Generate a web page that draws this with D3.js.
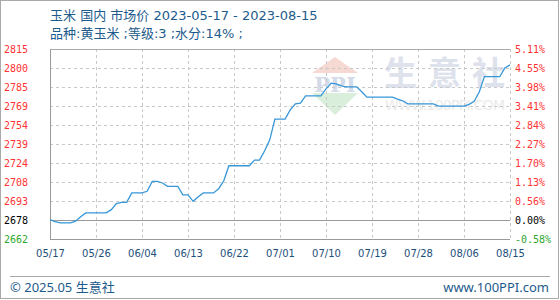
<!DOCTYPE html>
<html>
<head>
<meta charset="utf-8">
<script src="https://cdn.jsdelivr.net/npm/d3@7"></script>
<style>
  html, body { margin: 0; padding: 0; background: #fff; }
  svg { display: block; }
</style>
</head>
<body>
<div class="chart"></div>
<script>
// data, one value per day from 2023-05-17 to 2023-08-15
var startDate = '2023-05-17', endDate = '2023-08-15';
var basePrice = 2678;
var prices = [
  2678, 2676.4, 2675.4, 2675.4, 2675.4, 2676.8, 2680.4, 2683.4, 2683.4, 2683.4,
  2683.4, 2683.4, 2686, 2690.8, 2691.9, 2691.9, 2699.4, 2699.4, 2699.4, 2700.7,
  2708.7, 2708.7, 2707.4, 2704.7, 2704.7, 2704.7, 2697.8, 2697.8, 2692.7, 2696.4,
  2699.4, 2699.4, 2699.4, 2702.8, 2709.2, 2721.2, 2721.2, 2721.2, 2721.2, 2721.2,
  2725.8, 2725.8, 2733.2, 2742, 2758.6, 2758.6, 2758.6, 2766, 2770.9, 2771.4,
  2777.3, 2777.3, 2777.3, 2777.3, 2782.9, 2787.4, 2786.9, 2785.3, 2784.5, 2784.5,
  2784.5, 2780.5, 2776.2, 2776.2, 2776.2, 2776.2, 2776.2, 2776.2, 2774.6, 2773.3,
  2770.9, 2770.9, 2770.9, 2770.9, 2770.9, 2770.9, 2769, 2769, 2769, 2769,
  2769, 2769, 2770.5, 2772.9, 2780.5, 2792.7, 2792.7, 2792.7, 2792.7, 2799.7,
  2802.1
];
var xTickLabels = ['05/17', '05/26', '06/04', '06/13', '06/22', '07/01', '07/10', '07/19', '07/28', '08/06', '08/15'];
var yTickLabels = ['2662', '2678', '2693', '2708', '2724', '2739', '2754', '2769', '2785', '2800', '2815'];
var yTickPct = [-0.58, 0, 0.56, 1.13, 1.70, 2.27, 2.84, 3.41, 3.98, 4.55, 5.11];

var width = 560, height = 300;
var plotLeft = 50, plotRight = 510, plotTop = 49, plotBottom = 239;
var titleColor = '#1d5b8c';
var titleFont = 'DejaVu Sans, Noto Sans CJK SC, sans-serif';

var parse = d3.timeParse('%Y-%m-%d');
var days = d3.timeDay.range(parse(startDate), d3.timeDay.offset(parse(endDate), 1));
var series = days.map(function(d, i) { return {date: d, value: prices[i]}; });

var svg = d3.select('.chart')
  .append('svg')
  .attr('width', width)
  .attr('height', height);

// outer frame
svg.append('rect')
  .attr('x', 0.5).attr('y', 0.5)
  .attr('width', 558).attr('height', 298)
  .attr('fill', '#fff')
  .attr('stroke', '#aaa');

// titles
svg.append('text')
  .attr('x', plotLeft).attr('y', 20)
  .attr('font-family', titleFont)
  .attr('font-size', 13)
  .attr('fill', titleColor)
  .text('玉米 国内 市场价 2023-05-17 - 2023-08-15');

svg.append('text')
  .attr('x', plotLeft).attr('y', 38)
  .attr('font-family', titleFont)
  .attr('font-size', 13)
  .attr('fill', titleColor)
  .text('品种:黄玉米 ;等级:3 ;水分:14% ;');

// scales
var x = d3.scaleTime()
  .domain([parse(startDate), parse(endDate)])
  .range([plotLeft, plotRight]);

var y = d3.scaleLinear()
  .domain([basePrice * (1 + yTickPct[0] / 100), basePrice * (1 + yTickPct[yTickPct.length - 1] / 100)])
  .range([plotBottom, plotTop]);

function yPct(p) { return y(basePrice * (1 + p / 100)); }

// watermark
var wm = svg.append('g').attr('class', 'watermark');
wm.append('path')
  .attr('d', 'M335,57L358,73L312,73Z')
  .attr('fill', '#f7d9d4');
wm.append('path')
  .attr('d', 'M312,93L358,93L335,115Z')
  .attr('fill', '#d9efdc');
wm.append('text')
  .attr('x', 335).attr('y', 92)
  .attr('text-anchor', 'middle')
  .attr('font-family', 'DejaVu Serif, serif')
  .attr('font-weight', 'bold')
  .attr('font-size', 21)
  .attr('fill', '#d3dae8')
  .text('PPI');
wm.append('text')
  .attr('x', 384).attr('y', 85)
  .attr('font-family', 'Noto Sans CJK SC, sans-serif')
  .attr('font-weight', 'bold')
  .attr('font-size', 33)
  .attr('fill', '#dde2ec')
  .text('生意社')
  .attr('textLength', 121)
  .attr('lengthAdjust', 'spacing');
wm.append('text')
  .attr('x', 385).attr('y', 110)
  .attr('font-family', 'DejaVu Sans, sans-serif')
  .attr('font-size', 14)
  .attr('textLength', 120)
  .attr('fill', '#ebebeb')
  .text('WWW.100PPI.COM');

// grid
var xTickDates = xTickLabels.map(function(s) { return parse(startDate.slice(0, 5) + s.replace('/', '-')); });

svg.append('g')
  .selectAll('line')
  .data(xTickDates.slice(1))
  .enter().append('line')
  .attr('x1', function(d) { return Math.round(x(d)) + 0.5; })
  .attr('x2', function(d) { return Math.round(x(d)) + 0.5; })
  .attr('y1', plotTop).attr('y2', plotBottom)
  .attr('stroke', '#c8c8c8')
  .attr('stroke-dasharray', '3,3');

svg.append('g')
  .selectAll('line')
  .data(yTickPct.slice(1, -1))
  .enter().append('line')
  .attr('x1', plotLeft).attr('x2', plotRight)
  .attr('y1', function(p) { return Math.round(yPct(p)) + 0.5; })
  .attr('y2', function(p) { return Math.round(yPct(p)) + 0.5; })
  .attr('stroke', function(p) { return p === 0 ? '#999' : '#c8c8c8'; })
  .attr('stroke-dasharray', function(p) { return p === 0 ? null : '3,3'; });

// frame lines
svg.append('line')
  .attr('x1', plotLeft).attr('x2', plotRight)
  .attr('y1', plotTop + 0.5).attr('y2', plotTop + 0.5)
  .attr('stroke', '#aaa');
svg.append('line')
  .attr('x1', plotLeft).attr('x2', plotRight)
  .attr('y1', plotBottom + 0.5).attr('y2', plotBottom + 0.5)
  .attr('stroke', '#999');
svg.append('line')
  .attr('x1', plotLeft + 0.5).attr('x2', plotLeft + 0.5)
  .attr('y1', plotTop).attr('y2', plotBottom + 1)
  .attr('stroke', '#999');

// y labels left (prices) and right (percent)
function labelColor(p) { return p > 0 ? '#ff3333' : (p < 0 ? '#2ea82e' : '#000'); }

svg.append('g')
  .selectAll('text')
  .data(yTickPct)
  .enter().append('text')
  .attr('x', 4)
  .attr('y', function(p) { return yPct(p) + 4; })
  .attr('font-family', 'DejaVu Sans Mono, monospace')
  .attr('font-size', 10)
  .attr('fill', labelColor)
  .text(function(p, i) { return yTickLabels[i]; });

svg.append('g')
  .selectAll('text')
  .data(yTickPct)
  .enter().append('text')
  .attr('x', 515)
  .attr('y', function(p) { return yPct(p) + 4; })
  .attr('font-family', 'DejaVu Sans Mono, monospace')
  .attr('font-size', 10)
  .attr('fill', labelColor)
  .text(function(p) { return p.toFixed(2) + '%'; });

// x axis labels
var xAxis = d3.axisBottom(x)
  .tickValues(xTickDates)
  .tickSize(0)
  .tickPadding(0)
  .tickFormat(function(d, i) { return xTickLabels[i]; });

var gx = svg.append('g')
  .attr('transform', 'translate(0,' + 250 + ')')
  .call(xAxis);
gx.select('.domain').remove();
gx.selectAll('text')
  .attr('font-family', 'DejaVu Sans, sans-serif')
  .attr('font-size', 10)
  .attr('fill', '#1d4f7c');

// price line
var line = d3.line()
  .x(function(d) { return x(d.date); })
  .y(function(d) { return y(d.value); });

svg.append('path')
  .datum(series)
  .attr('d', line)
  .attr('fill', 'none')
  .attr('stroke', '#3797d8')
  .attr('stroke-width', 1.3);

// footer
svg.append('line')
  .attr('x1', 10).attr('x2', 550)
  .attr('y1', 276.5).attr('y2', 276.5)
  .attr('stroke', '#aaa');
svg.append('text')
  .attr('x', 10).attr('y', 292)
  .attr('font-family', 'Noto Sans, Noto Sans CJK SC, sans-serif')
  .attr('font-size', 13)
  .attr('fill', titleColor)
  .text('© 2025.05 生意社');
svg.append('text')
  .attr('x', 549).attr('y', 292)
  .attr('text-anchor', 'end')
  .attr('font-family', 'Noto Sans, sans-serif')
  .attr('font-size', 13)
  .attr('fill', titleColor)
  .text('www.100PPI.com');
</script>
</body>
</html>
